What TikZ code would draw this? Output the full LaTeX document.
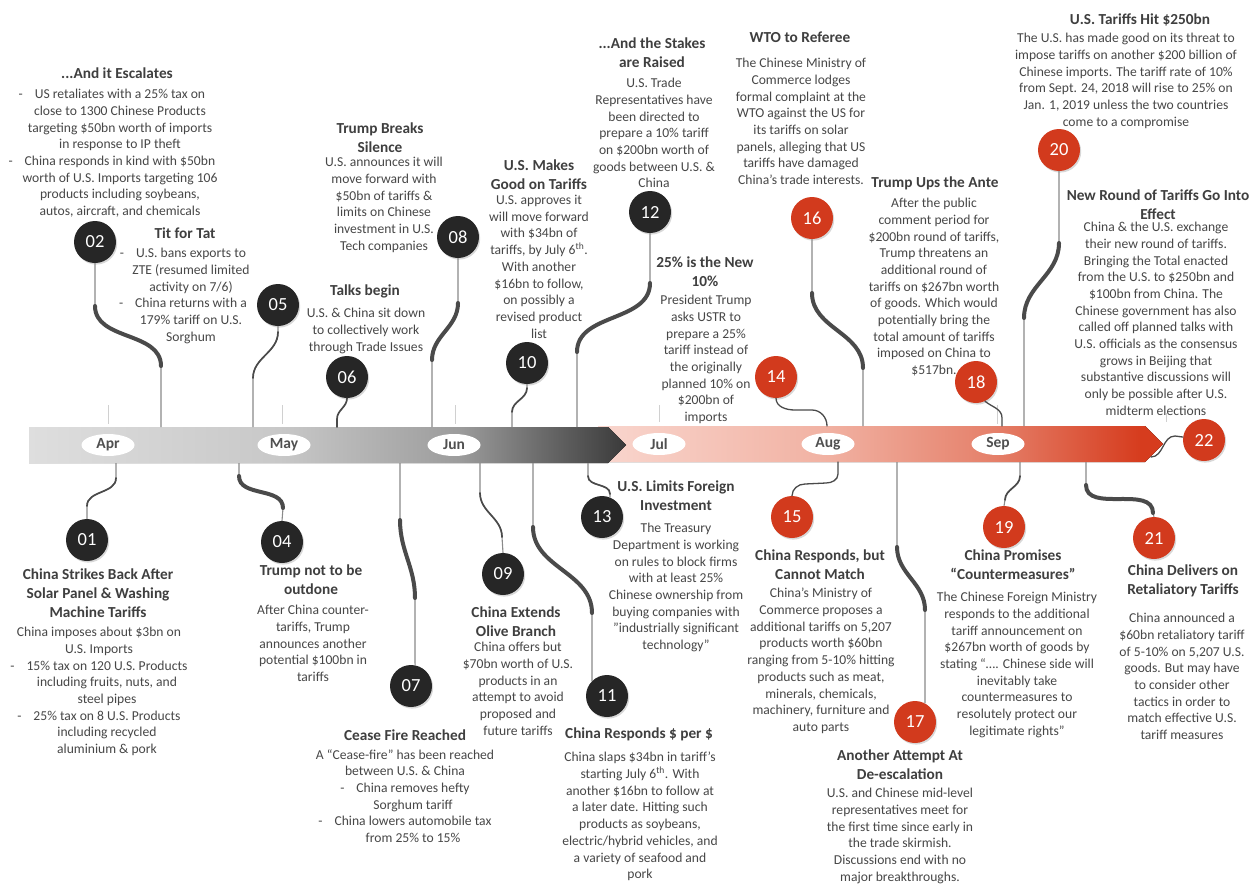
\documentclass[tikz,border=0pt]{standalone}
\usepackage{fontspec}
\setmainfont{Carlito}
\usetikzlibrary{shapes.geometric,shadows}
\definecolor{txt}{HTML}{474747}
\definecolor{ttlc}{HTML}{3F3F3F}
\definecolor{dkc}{HTML}{262626}
\definecolor{rdc}{HTML}{D23A1D}
\definecolor{monc}{HTML}{505050}
\definecolor{linec}{HTML}{8A8A8A}
\definecolor{thkc}{HTML}{4A4A4A}
\definecolor{tickc}{HTML}{D0D0D0}
\definecolor{gA}{HTML}{DEDEDE}
\definecolor{gB}{HTML}{C8C8C8}
\definecolor{gC}{HTML}{9C9C9C}
\definecolor{gD}{HTML}{5C5C5C}
\definecolor{gE}{HTML}{3A3A3A}
\definecolor{pA}{HTML}{F9D6CE}
\definecolor{pB}{HTML}{F1B2A3}
\definecolor{pC}{HTML}{E5806A}
\definecolor{pD}{HTML}{D63C1E}
\pgfdeclarehorizontalshading{grayshade}{100bp}{color(0bp)=(gA); color(25bp)=(gA); color(46bp)=(gB); color(61bp)=(gC); color(70bp)=(gD); color(75bp)=(gE); color(100bp)=(gE)}
\pgfdeclarehorizontalshading{redshade}{100bp}{color(0bp)=(pA); color(25bp)=(pA); color(45bp)=(pB); color(60bp)=(pC); color(73bp)=(pD); color(75bp)=(pD); color(100bp)=(pD)}
\newcommand\li{\hspace*{16pt}\llap{-\hspace{12pt}}}
\newcommand\lc{\hspace*{16pt}}
\tikzset{
 ttl/.style={font=\bfseries\fontsize{15.3}{19}\selectfont, text=ttlc, align=center, inner sep=0pt, anchor=north},
 bdy/.style={font=\fontsize{13.6}{16.7}\selectfont, text=txt, align=center, inner sep=0pt, anchor=north},
 evt/.style={circle, minimum size=42pt, inner sep=0pt, font=\fontsize{18.5}{18.5}\selectfont, text=white, drop shadow={shadow xshift=1.2pt, shadow yshift=-1.6pt, opacity=0.3}},
 dk/.style={evt, fill=dkc},
 rd/.style={evt, fill=rdc},
 mon/.style={ellipse, fill=white, minimum width=53pt, minimum height=22pt, inner sep=0pt, font=\bfseries\fontsize{15.5}{15.5}\selectfont, text=monc},
 cthin/.style={draw=linec, line width=1.1pt},
 cthick/.style={draw=thkc, line width=4pt, line cap=round},
 cmid/.style={draw=thkc, line width=1.7pt, line cap=round},
 tickl/.style={draw=tickc, line width=0.8pt},
}
\begin{document}
\begin{tikzpicture}[x=1pt,y=1pt]
\useasboundingbox (0,0) rectangle (1257,-886);
\fill[white] (0,0) rectangle (1257,-886);

% ---- timeline bars
\fill[shading=redshade] (598,-426) -- (1145,-426) -- (1163,-444) -- (1145,-462) -- (598,-462) -- cycle;
\fill[shading=grayshade] (29,-427) -- (608,-427) -- (626,-445) -- (608,-463) -- (29,-463) -- cycle;

% ---- ticks
\draw[tickl] (108,-405) -- (108,-424);
\draw[tickl] (282,-405) -- (282,-424);
\draw[tickl] (455,-405) -- (455,-424);
\draw[tickl] (659,-405) -- (659,-422);
\draw[tickl] (997,-405) -- (997,-424);
\draw[tickl] (1166,-413) -- (1166,-422);

% ---- months
\node[mon] (apr) at (108,-445) {Apr};
\node[mon] (may) at (284,-445) {May};
\node[mon] (jun) at (454,-445) {Jun};
\node[mon] (jul) at (659,-444) {Jul};
\node[mon] (aug) at (828,-444) {Aug};
\node[mon] (sep) at (998,-444) {Sep};

% ---- bar attach points
\coordinate (b02) at (161,-427);
\coordinate (b05) at (253,-427);
\coordinate (b06) at (337,-427);
\coordinate (b08) at (432,-427);
\coordinate (b10) at (512,-427);
\coordinate (b12) at (577,-427);
\coordinate (b14) at (827,-426);
\coordinate (b16) at (863,-426);
\coordinate (b18) at (1002,-426);
\coordinate (b20) at (1024,-426);
\coordinate (b22) at (1151,-457);
\coordinate (b01) at (116,-463);
\coordinate (b04) at (239,-463);
\coordinate (b07) at (400,-463);
\coordinate (b09) at (480,-463);
\coordinate (b11) at (533,-463);
\coordinate (b13) at (588,-463);
\coordinate (b15) at (838,-462);
\coordinate (b17) at (897,-462);
\coordinate (b19) at (1020,-462);
\coordinate (b21) at (1086,-462);

% ---- bend points
\coordinate (u02) at (95,-306);   \coordinate (v02) at (161,-366);
\coordinate (u05) at (278,-332);  \coordinate (v05) at (253,-378);
\coordinate (v06) at (337,-419);
\coordinate (u08) at (458,-303);  \coordinate (v08) at (432,-360);
\coordinate (u10) at (527,-388);  \coordinate (v10) at (512,-412);
\coordinate (u12) at (650,-283);  \coordinate (v12) at (577,-352);
\coordinate (u14) at (795,-410);  \coordinate (v14) at (812,-410);
\coordinate (u16) at (812,-293);  \coordinate (v16) at (863,-368);
\coordinate (v18) at (1002,-418);
\coordinate (u20) at (1059,-243); \coordinate (v20) at (1024,-318);
\coordinate (u22) at (1175,-436);
\coordinate (u01) at (116,-478);  \coordinate (v01) at (87,-506);
\coordinate (u04) at (239,-476);  \coordinate (v04) at (283,-508);
\coordinate (u07) at (400,-520);  \coordinate (v07) at (415,-598);
\coordinate (u09) at (480,-493);  \coordinate (v09) at (502,-537);
\coordinate (u11) at (533,-527);  \coordinate (v11) at (592,-613);
\coordinate (u13) at (588,-476);  \coordinate (v13) at (610,-494);
\coordinate (u15) at (838,-474);  \coordinate (v15) at (826,-483); \coordinate (w15) at (805,-484);
\coordinate (u17) at (897,-547);  \coordinate (v17) at (925,-610);
\coordinate (u19) at (1020,-476); \coordinate (v19) at (1005,-500);
\coordinate (u21) at (1086,-485); \coordinate (v21) at (1153,-513);

% ---- circles
\node[dk] (c01) at (87,-540) {01};
\node[dk] (c02) at (95,-242) {02};
\node[dk] (c04) at (282,-542) {04};
\node[dk] (c05) at (278,-305) {05};
\node[dk] (c06) at (347,-377) {06};
\node[dk] (c07) at (411,-686) {07};
\node[dk] (c08) at (458,-237) {08};
\node[dk] (c09) at (503,-574) {09};
\node[dk] (c10) at (527,-363) {10};
\node[dk] (c11) at (607,-696) {11};
\node[dk] (c12) at (650,-212) {12};
\node[dk] (c13) at (602,-517) {13};
\node[rd] (c14) at (776,-377) {14};
\node[rd] (c15) at (792,-517) {15};
\node[rd] (c16) at (812,-218) {16};
\node[rd] (c17) at (915,-722) {17};
\node[rd] (c18) at (976,-382) {18};
\node[rd] (c19) at (1004,-527) {19};
\node[rd] (c20) at (1059,-150) {20};
\node[rd] (c21) at (1154,-538) {21};
\node[rd] (c22) at (1204,-440) {22};

% ---- connectors (upper)
\draw[cthin] (c02.south) -- (u02) to[out=-90,in=90] (v02) -- (b02);
\draw[cthick] (u02) to[out=-90,in=90] (v02);
\draw[cthin] (c05.south) -- (u05) to[out=-90,in=90] (v05) -- (b05);
\draw[cmid] (u05) to[out=-90,in=90] (v05);
\draw[cmid] (c06.south) to[out=-90,in=90] (v06) -- (b06);
\draw[cthin] (c08.south) -- (u08) to[out=-90,in=90] (v08) -- (b08);
\draw[cthick] (u08) to[out=-90,in=90] (v08);
\draw[cthin] (c10.south) -- (u10) to[out=-90,in=90] (v10) -- (b10);
\draw[cmid] (u10) to[out=-90,in=90] (v10);
\draw[cthin] (c12.south) -- (u12) to[out=-90,in=90] (v12) -- (b12);
\draw[cthick] (u12) to[out=-90,in=90] (v12);
\draw[cmid, line width=1.3pt] (c14.south) to[out=-90,in=180] (u14) -- (v14) to[out=0,in=90] (b14);
\draw[cthin] (c16.south) -- (u16) to[out=-90,in=90] (v16) -- (b16);
\draw[cthick] (u16) to[out=-90,in=90] (v16);
\draw[cmid, line width=1.3pt] (c18.-65) to[out=-40,in=90] (v18) -- (b18);
\draw[cthin] (c20.south) -- (u20) to[out=-90,in=90] (v20) -- (b20);
\draw[cthick] (u20) to[out=-90,in=90] (v20);
\draw[cmid, line width=1.3pt] (c22.172) -- (u22) to[out=180,in=0] (b22);

% ---- connectors (lower)
\draw[cthin] (c01.north) -- (v01) to[out=90,in=-90] (u01) -- (b01);
\draw[cmid] (v01) to[out=90,in=-90] (u01);
\draw[cthin] (c04.north) -- (v04) to[out=90,in=-90] (u04) -- (b04);
\draw[cthick] (v04) to[out=90,in=-90] (u04);
\draw[cthin] (c07.79) -- (v07) to[out=90,in=-90] (u07) -- (b07);
\draw[cthick] (v07) to[out=90,in=-90] (u07);
\draw[cthin] (c09.north) -- (v09) to[out=90,in=-90] (u09) -- (b09);
\draw[cmid] (v09) to[out=90,in=-90] (u09);
\draw[cthin] (c11.135) -- (v11) to[out=90,in=-90] (u11) -- (b11);
\draw[cthick] (v11) to[out=90,in=-90] (u11);
\draw[cthin] (c13.68) -- (v13) to[out=90,in=-90] (u13) -- (b13);
\draw[cmid] (v13) to[out=90,in=-90] (u13);
\draw[cmid, line width=1.3pt] (c15.north) to[out=90,in=180] (w15) -- (v15) to[out=0,in=-90] (u15) -- (b15);
\draw[cthin] (c17.62) -- (v17) to[out=90,in=-90] (u17) -- (b17);
\draw[cthick] (v17) to[out=90,in=-90] (u17);
\draw[cthin] (c19.north) -- (v19) to[out=90,in=-90] (u19) -- (b19);
\draw[cmid] (v19) to[out=90,in=-90] (u19);
\draw[cthin] (c21.north) -- (v21) to[out=90,in=-90] (u21) -- (b21);
\draw[cthick] (v21) to[out=90,in=-90] (u21);

% ---- upper texts
\node[ttl] (tEsc) at (117,-67.5) {...And it Escalates};
\node[bdy] (dEsc) at (112,-89) {\li US retaliates with a 25\% tax on\\\lc close to 1300 Chinese Products\\\lc targeting \$50bn worth of imports\\\lc in response to IP theft\\\li China responds in kind with \$50bn\\\lc worth of U.S. Imports targeting 106\\\lc products including soybeans,\\\lc autos, aircraft, and chemicals};

\node[ttl] (tTit) at (185,-227.5) {Tit for Tat};
\node[bdy] (dTit) at (183,-248) {\li U.S. bans exports to\\\lc ZTE (resumed limited\\\lc activity on 7/6)\\\li China returns with a\\\lc 179\% tariff on U.S.\\\lc Sorghum};

\node[ttl] (tBreak) at (380,-122.5) {Trump Breaks\\Silence};
\node[bdy] (dBreak) at (384,-157) {U.S. announces it will\\move forward with\\\$50bn of tariffs \&\\limits on Chinese\\investment in U.S.\\Tech companies};

\node[ttl] (tTalk) at (365,-284.5) {Talks begin};
\node[bdy] (dTalk) at (366,-308) {U.S. \& China sit down\\to collectively work\\through Trade Issues};

\node[ttl] (tGood) at (539,-159.5) {U.S. Makes\\Good on Tariffs};
\node[bdy] (dGood) at (539,-195) {U.S. approves it\\will move forward\\with \$34bn of\\tariffs, by July 6\textsuperscript{th}.\\With another\\\$16bn to follow,\\on possibly a\\revised product\\list};

\node[ttl] (tStake) at (652,-37.5) {...And the Stakes\\are Raised};
\node[bdy] (dStake) at (654,-78) {U.S. Trade\\Representatives have\\been directed to\\prepare a 10\% tariff\\on \$200bn worth of\\goods between U.S. \&\\China};

\node[ttl] (tNew) at (705,-256.5) {25\% is the New\\10\%};
\node[bdy] (dNew) at (706,-295) {President Trump\\asks USTR to\\prepare a 25\%\\tariff instead of\\the originally\\planned 10\% on\\\$200bn of\\imports};

\node[ttl] (tWTO) at (800,-31.5) {WTO to Referee};
\node[bdy] (dWTO) at (801,-58) {The Chinese Ministry of\\Commerce lodges\\formal complaint at the\\WTO against the US for\\its tariffs on solar\\panels, alleging that US\\tariffs have damaged\\China’s trade interests.};

\node[ttl] (tAnte) at (935,-176.5) {Trump Ups the Ante};
\node[bdy] (dAnte) at (934,-198) {After the public\\comment period for\\\$200bn round of tariffs,\\Trump threatens an\\additional round of\\tariffs on \$267bn worth\\of goods. Which would\\potentially bring the\\total amount of tariffs\\imposed on China to\\\$517bn.};

\node[ttl] (tHit) at (1140,-13.5) {U.S. Tariffs Hit \$250bn};
\node[bdy] (dHit) at (1126,-33) {The U.S. has made good on its threat to\\impose tariffs on another \$200 billion of\\Chinese imports. The tariff rate of 10\%\\from Sept. 24, 2018 will rise to 25\% on\\Jan. 1, 2019 unless the two countries\\come to a compromise};

\node[ttl] (tRound) at (1158,-189.5) {New Round of Tariffs Go Into\\Effect};
\node[bdy] (dRound) at (1156,-222) {China \& the U.S. exchange\\their new round of tariffs.\\Bringing the Total enacted\\from the U.S. to \$250bn and\\\$100bn from China. The\\Chinese government has also\\called off planned talks with\\U.S. officials as the consensus\\grows in Beijing that\\substantive discussions will\\only be possible after U.S.\\midterm elections};

% ---- lower texts
\node[ttl] (tStrike) at (98,-568.5) {China Strikes Back After\\Solar Panel \& Washing\\Machine Tariffs};
\node[bdy] (dStrike) at (99,-627) {China imposes about \$3bn on\\U.S. Imports\\\li 15\% tax on 120 U.S. Products\\\lc including fruits, nuts, and\\\lc steel pipes\\\li 25\% tax on 8 U.S. Products\\\lc including recycled\\\lc aluminium \& pork};

\node[ttl] (tOut) at (311,-564.5) {Trump not to be\\outdone};
\node[bdy] (dOut) at (313,-605) {After China counter-\\tariffs, Trump\\announces another\\potential \$100bn in\\tariffs};

\node[ttl] (tCease) at (405,-729.5) {Cease Fire Reached};
\node[bdy] (dCease) at (405,-749) {A “Cease-fire” has been reached\\between U.S. \& China\\\li China removes hefty\\\lc Sorghum tariff\\\li China lowers automobile tax\\\lc from 25\% to 15\%};

\node[ttl] (tOlive) at (516,-606.5) {China Extends\\Olive Branch};
\node[bdy] (dOlive) at (518,-642) {China offers but\\\$70bn worth of U.S.\\products in an\\attempt to avoid\\proposed and\\future tariffs};

\node[ttl] (tDollar) at (639,-727.5) {China Responds \$ per \$};
\node[bdy] (dDollar) at (640,-752) {China slaps \$34bn in tariff’s\\starting July 6\textsuperscript{th}. With\\another \$16bn to follow at\\a later date. Hitting such\\products as soybeans,\\electric/hybrid vehicles, and\\a variety of seafood and\\pork};

\node[ttl] (tLimit) at (676,-480.5) {U.S. Limits Foreign\\Investment};
\node[bdy] (dLimit) at (676,-523) {The Treasury\\Department is working\\on rules to block firms\\with at least 25\%\\Chinese ownership from\\buying companies with\\\symbol{34}industrially significant\\technology\symbol{34}};

\node[ttl] (tMatch) at (820,-549.5) {China Responds, but\\Cannot Match};
\node[bdy] (dMatch) at (821,-588) {China’s Ministry of\\Commerce proposes a\\additional tariffs on 5,207\\products worth \$60bn\\ranging from 5-10\% hitting\\products such as meat,\\minerals, chemicals,\\machinery, furniture and\\auto parts};

\node[ttl] (tDe) at (900,-749.5) {Another Attempt At\\De-escalation};
\node[bdy] (dDe) at (900,-788) {U.S. and Chinese mid-level\\representatives meet for\\the first time since early in\\the trade skirmish.\\Discussions end with no\\major breakthroughs.};

\node[ttl] (tProm) at (1013,-549.5) {China Promises\\“Countermeasures”};
\node[bdy] (dProm) at (1017,-592) {The Chinese Foreign Ministry\\responds to the additional\\tariff announcement on\\\$267bn worth of goods by\\stating “…. Chinese side will\\inevitably take\\countermeasures to\\resolutely protect our\\legitimate rights”};

\node[ttl] (tDel) at (1183,-564.5) {China Delivers on\\Retaliatory Tariffs};
\node[bdy] (dDel) at (1182,-613) {China announced a\\\$60bn retaliatory tariff\\of 5-10\% on 5,207 U.S.\\goods. But may have\\to consider other\\tactics in order to\\match effective U.S.\\tariff measures};
\end{tikzpicture}
\end{document}
